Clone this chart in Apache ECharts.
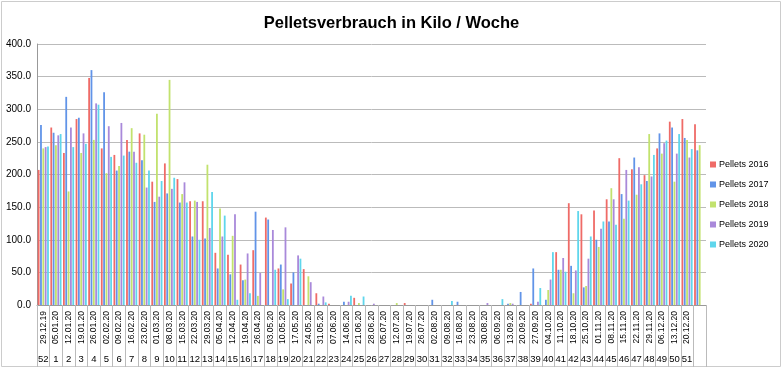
<!DOCTYPE html>
<html><head><meta charset="utf-8">
<script src="https://cdn.jsdelivr.net/npm/echarts@6/dist/echarts.min.js"></script>
<style>html,body{margin:0;padding:0;background:#fff}#c{width:783px;height:369px}</style>
</head><body><div id="c"></div>
<script>
const dates = ['29.12.19','05.01.20','12.01.20','19.01.20','26.01.20','02.02.20','09.02.20','16.02.20','23.02.20','01.03.20','08.03.20','15.03.20','22.03.20','29.03.20','05.04.20','12.04.20','19.04.20','26.04.20','03.05.20','10.05.20','17.05.20','24.05.20','31.05.20','07.06.20','14.06.20','21.06.20','28.06.20','05.07.20','12.07.20','19.07.20','26.07.20','02.08.20','09.08.20','16.08.20','23.08.20','30.08.20','06.09.20','13.09.20','20.09.20','27.09.20','04.10.20','11.10.20','18.10.20','25.10.20','01.11.20','08.11.20','15.11.20','22.11.20','29.11.20','06.12.20','13.12.20','20.12.20',''];
const weeks = ['52','1','2','3','4','5','6','7','8','9','10','11','12','13','14','15','16','17','18','19','20','21','22','23','24','25','26','27','28','29','30','31','32','33','34','35','36','37','38','39','40','41','42','43','44','45','46','47','48','49','50','51',''];
const yTicks = [0,50,100,150,200,250,300,350,400];

const pellets2016 = [207,272,233,285,348,240,230,253,263,189,217,193,159,159,80,77,62,84,134,56,33,55,18,2,0,11,0,0,0,3,0,0,0,0,0,0,0,0,0,2,0,81,156,139,145,162,225,208,199,240,281,285,277];
const pellets2017 = [276,264,319,287,360,326,206,235,222,158,171,157,105,102,56,47,38,143,131,62,50,0,2,0,5,0,0,0,0,0,0,8,0,5,0,0,0,2,20,56,8,54,60,27,100,128,170,226,190,263,272,256,237];
const pellets2018 = [240,245,174,233,253,202,213,271,261,293,345,170,160,215,148,106,39,14,0,24,0,44,0,0,0,3,0,0,3,0,0,0,0,0,0,0,0,3,0,0,23,54,18,29,89,179,132,169,262,232,189,253,245];
const pellets2019 = [242,260,272,263,309,274,279,235,180,166,178,188,158,118,105,139,79,49,115,119,76,35,13,0,5,0,2,0,0,0,0,0,0,0,0,3,0,2,0,5,39,72,53,71,117,162,207,211,197,248,232,226,0];
const pellets2020 = [243,262,242,247,307,227,229,218,206,190,195,157,100,173,137,8,18,0,54,9,71,0,4,0,14,13,0,0,0,0,0,0,6,0,0,0,9,0,0,26,81,51,144,105,128,123,160,185,230,252,262,239,0];

const seriesNames = ['Pellets 2016','Pellets 2017','Pellets 2018','Pellets 2019','Pellets 2020'];
const seriesData = [pellets2016,pellets2017,pellets2018,pellets2019,pellets2020];
const colors = ['#ef6b67','#6194e8','#c2e26e','#a989da','#5fd6ec'];

const chart = echarts.init(document.getElementById('c'), null, {renderer:'canvas'});
const font = 'Liberation Sans, Arial, sans-serif';
chart.setOption({
  animation:false,
  color: colors,
  title:{text:'Pelletsverbrauch in Kilo / Woche',left:'center',top:10,textStyle:{fontFamily:font,fontSize:16.5,fontWeight:'bold',color:'#000'}},
  legend:{orient:'vertical',left:705,top:155,itemWidth:6,itemHeight:6,itemGap:11,icon:'rect',
    textStyle:{fontFamily:font,fontSize:9,color:'#000',padding:[0,0,0,-2]},data:seriesNames},
  grid:{left:37,right:77,top:44,bottom:64,containLabel:false},
  xAxis:[
    {type:'category',data:dates,position:'bottom',
      axisLine:{show:true,lineStyle:{color:'#999'}},
      axisTick:{show:true,interval:0,length:62,lineStyle:{color:'#bbb'}},
      axisLabel:{interval:0,rotate:90,margin:6,fontFamily:font,fontSize:8.5,color:'#000'}},
    {type:'category',data:weeks,position:'bottom',offset:48,
      axisLine:{show:false},axisTick:{show:false},
      axisLabel:{interval:0,margin:1,fontFamily:font,fontSize:9.5,color:'#000'}}
  ],
  yAxis:{type:'value',min:0,max:400,interval:50,
    axisLine:{show:true,lineStyle:{color:'#999'}},axisTick:{show:false},
    splitLine:{lineStyle:{color:'#bbb',width:1}},
    axisLabel:{margin:6,fontFamily:font,fontSize:10,color:'#000',formatter:v=>v.toFixed(1)}},
  series: seriesNames.map((n,i)=>({name:n,type:'bar',xAxisIndex:0,data:seriesData[i],barWidth:1.8,barGap:'30%'})),
  graphic:[{type:'rect',shape:{x:1.5,y:1.5,width:779,height:365},style:{fill:'none',stroke:'#ccc',lineWidth:1},silent:true}]
});
</script></body></html>
